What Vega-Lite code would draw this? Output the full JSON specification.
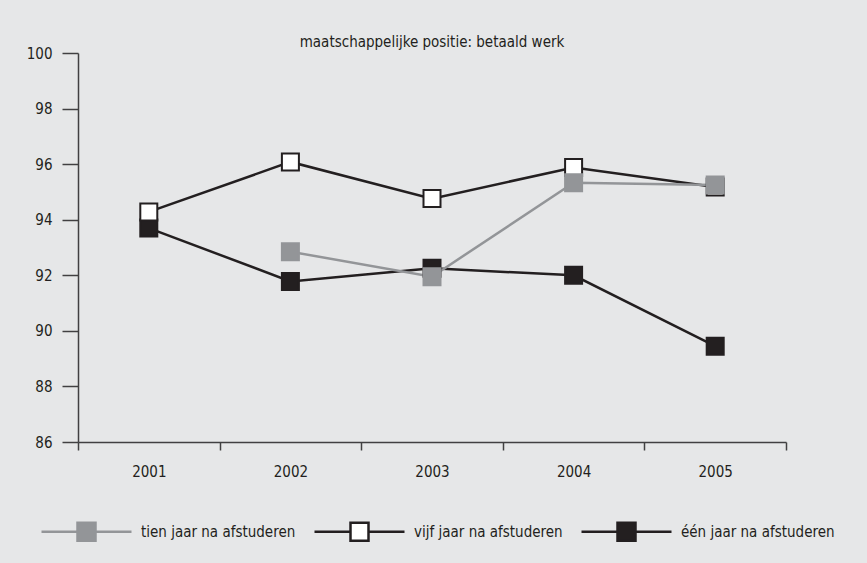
{
  "$schema": "https://vega.github.io/schema/vega-lite/v6.json",
  "width": 708,
  "height": 389,
  "autosize": {"type": "none"},
  "padding": {"left": 78, "top": 53, "right": 81, "bottom": 121},
  "background": "#e6e7e8",
  "title": {
    "text": "maatschappelijke positie: betaald werk",
    "anchor": "middle",
    "fontSize": 15,
    "fontWeight": "normal",
    "color": "#231f20",
    "offset": -4
  },
  "data": {
    "values": [
      {"reeks": "één jaar na afstuderen", "jaar": "2001", "waarde": 93.7},
      {"reeks": "één jaar na afstuderen", "jaar": "2002", "waarde": 91.78},
      {"reeks": "één jaar na afstuderen", "jaar": "2003", "waarde": 92.25},
      {"reeks": "één jaar na afstuderen", "jaar": "2004", "waarde": 92.0},
      {"reeks": "één jaar na afstuderen", "jaar": "2005", "waarde": 89.45},
      {"reeks": "vijf jaar na afstuderen", "jaar": "2001", "waarde": 94.28},
      {"reeks": "vijf jaar na afstuderen", "jaar": "2002", "waarde": 96.08},
      {"reeks": "vijf jaar na afstuderen", "jaar": "2003", "waarde": 94.76},
      {"reeks": "vijf jaar na afstuderen", "jaar": "2004", "waarde": 95.88},
      {"reeks": "vijf jaar na afstuderen", "jaar": "2005", "waarde": 95.18},
      {"reeks": "tien jaar na afstuderen", "jaar": "2002", "waarde": 92.85},
      {"reeks": "tien jaar na afstuderen", "jaar": "2003", "waarde": 91.95},
      {"reeks": "tien jaar na afstuderen", "jaar": "2004", "waarde": 95.33},
      {"reeks": "tien jaar na afstuderen", "jaar": "2005", "waarde": 95.25}
    ]
  },
  "encoding": {
    "x": {
      "field": "jaar",
      "type": "ordinal",
      "bandPosition": 0.5,
      "scale": {"type": "band", "paddingInner": 0, "paddingOuter": 0},
      "axis": {
        "title": null,
        "labelAngle": 0,
        "tickBand": "extent",
        "domainColor": "#414042",
        "tickColor": "#414042",
        "domainWidth": 1.5,
        "tickWidth": 1.5,
        "tickSize": 8,
        "labelPadding": 14,
        "labelFontSize": 15,
        "labelColor": "#231f20"
      }
    },
    "y": {
      "field": "waarde",
      "type": "quantitative",
      "scale": {"domain": [86, 100], "zero": false, "nice": false},
      "axis": {
        "title": null,
        "values": [86, 88, 90, 92, 94, 96, 98, 100],
        "grid": false,
        "domainColor": "#414042",
        "tickColor": "#414042",
        "domainWidth": 1.5,
        "tickWidth": 1.5,
        "tickSize": 16,
        "labelPadding": 10,
        "labelFontSize": 15,
        "labelColor": "#231f20"
      }
    }
  },
  "layer": [
    {
      "mark": {"type": "line", "strokeWidth": 2.5},
      "encoding": {
        "stroke": {
          "field": "reeks",
          "type": "nominal",
          "scale": {
            "domain": ["tien jaar na afstuderen", "vijf jaar na afstuderen", "één jaar na afstuderen"],
            "range": ["#939598", "#231f20", "#231f20"]
          },
          "legend": {
            "orient": "none",
            "legendX": -38,
            "legendY": 432,
            "direction": "horizontal",
            "title": null,
            "symbolType": "M-1,0H-0.2M0.2,0H1M-0.2,-0.2H0.2V0.2H-0.2Z",
            "symbolSize": 8100,
            "symbolStrokeWidth": 2.5,
            "symbolOpacity": 1,
            "labelFontSize": 15,
            "labelOffset": 8,
            "labelColor": "#231f20",
            "labelLimit": 300,
            "columnPadding": 13
          }
        }
      }
    },
    {
      "mark": {"type": "point", "shape": "square", "filled": true, "size": 289, "strokeWidth": 2, "opacity": 1},
      "encoding": {
        "fill": {
          "field": "reeks",
          "type": "nominal",
          "scale": {
            "domain": ["tien jaar na afstuderen", "vijf jaar na afstuderen", "één jaar na afstuderen"],
            "range": ["#939598", "#ffffff", "#231f20"]
          },
          "legend": {
            "orient": "none",
            "legendX": -38,
            "legendY": 432,
            "direction": "horizontal",
            "title": null,
            "symbolType": "M-1,0H-0.2M0.2,0H1M-0.2,-0.2H0.2V0.2H-0.2Z",
            "symbolSize": 8100,
            "symbolStrokeWidth": 2.5,
            "symbolOpacity": 1,
            "labelFontSize": 15,
            "labelOffset": 8,
            "labelColor": "#231f20",
            "labelLimit": 300,
            "columnPadding": 13
          }
        },
        "stroke": {
          "field": "reeks",
          "type": "nominal"
        },
        "order": {"field": "reeks", "sort": "descending"}
      }
    }
  ],
  "config": {
    "view": {"stroke": null},
    "font": "Liberation Sans Narrow, DejaVu Sans Condensed, sans-serif"
  }
}
